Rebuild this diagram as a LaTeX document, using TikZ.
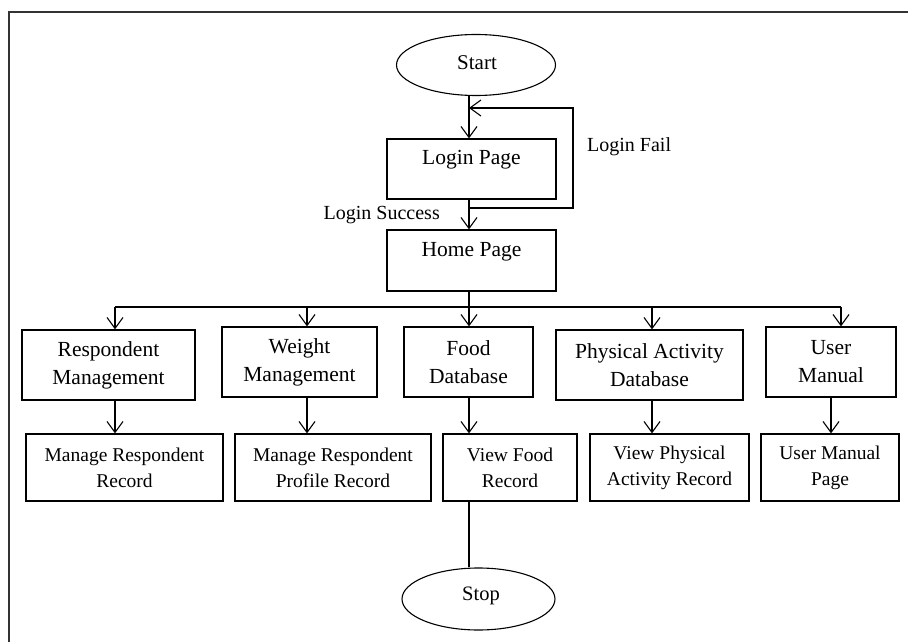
\documentclass[tikz,border=0pt]{standalone}
\usepackage{fontspec}
\setmainfont{Liberation Serif}
\usetikzlibrary{shapes.geometric,arrows.meta}

\tikzset{
  conn/.style={line width=1.1pt, draw=black},
  flow/.style={conn, -{Straight Barb[length=11pt,width=16pt,line width=1.1pt]}},
  box/.style={draw=black, line width=1.2pt, rectangle, inner sep=0pt, align=center,
              font=\fontsize{21.5}{28}\selectfont},
  subbox/.style={draw=black, line width=1.2pt, rectangle, inner sep=0pt, align=center,
              font=\fontsize{19.5}{26}\selectfont},
  term/.style={draw=black, line width=1.1pt, ellipse, inner sep=0pt},
  lbl/.style={inner sep=0pt, font=\fontsize{20}{24}\selectfont},
  frame/.style={line width=1.6pt, draw=black!80}
}

\begin{document}
\begin{tikzpicture}[x=1pt, y=-1pt]
\useasboundingbox (0,0) rectangle (908,642);

% outer border
\draw[frame] (9,680) |- (940,12);

% terminals
\node[term, minimum width=159pt, minimum height=61pt] (start) at (476,65) {};
\node[lbl, font=\fontsize{21}{24}\selectfont] (starttxt) at (477,63) {Start};
\node[term, minimum width=153pt, minimum height=62pt] (stop) at (478.5,599) {};
\node[lbl, font=\fontsize{20.5}{24}\selectfont] (stoptxt) at (481,596) {Stop};

% login and home pages (caption sits in the upper part of the box)
\node[box, minimum width=169pt, minimum height=60pt] (login) at (471.5,169) {};
\node[lbl, font=\fontsize{21.5}{24}\selectfont] (logintxt) at (471.5,160) {Login Page};
\node[box, minimum width=169pt, minimum height=61pt] (home) at (471.5,260.5) {};
\node[lbl, font=\fontsize{21.5}{24}\selectfont] (hometxt) at (471.5,252) {Home Page};

% module boxes
\node[box, minimum width=173pt, minimum height=70pt] (rm) at (108.5,365) {Respondent\\Management};
\node[box, minimum width=155pt, minimum height=70pt] (wm) at (299.5,362) {Weight\\Management};
\node[box, minimum width=129pt, minimum height=70pt] (fd) at (468.5,362) {Food\\Database};
\node[box, minimum width=187pt, minimum height=70pt] (pa) at (649.5,365) {Physical Activity\\Database};
\node[box, minimum width=130pt, minimum height=70pt] (um) at (831,362) {User\\Manual};

% page boxes
\node[subbox, minimum width=197pt, minimum height=67pt] (mrr) at (124.5,467.5) {Manage Respondent\\Record};
\node[subbox, minimum width=196pt, minimum height=67pt] (mrp) at (333,467.5) {Manage Respondent\\Profile Record};
\node[subbox, minimum width=134pt, minimum height=67pt] (vfr) at (510,467.5) {View Food\\Record};
\node[subbox, minimum width=159pt, minimum height=67pt] (vpa) at (669.5,467.5) {View Physical\\Activity Record};
\node[subbox, minimum width=138pt, minimum height=67pt] (ump) at (830,467.5) {User Manual\\Page};

% guide coordinates
\coordinate (spine) at (469,0);
\coordinate (loopin) at (469,108);
\coordinate (loopout) at (469,208);
\coordinate (loopR) at (573,0);
\coordinate (bus) at (0,307);
\coordinate (xa) at (115,0);
\coordinate (xb) at (307,0);
\coordinate (xd) at (652,0);
\coordinate (xe) at (841,0);
\coordinate (xf) at (831,0);

% start -> login
\draw[flow] (start.south -| spine) -- (login.north -| spine);
% login success
\draw[flow] (login.south -| spine) -- (home.north -| spine);
\node[lbl, anchor=east] (succ) at (440,215) {Login Success};
% login fail loop
\draw[flow] (loopout) -| (loopR |- loopin) -- (loopin);
\node[lbl, anchor=west] (fail) at (587,147) {Login Fail};

% home -> modules
\draw[conn] (home.south -| spine) -- (bus -| spine);
\draw[conn] (bus -| xa) -- (bus -| xe);
\draw[flow] (bus -| xa) -- (rm.north -| xa);
\draw[flow] (bus -| xb) -- (wm.north -| xb);
\draw[flow] (bus -| spine) -- (fd.north -| spine);
\draw[flow] (bus -| xd) -- (pa.north -| xd);
\draw[flow] (bus -| xe) -- (um.north -| xe);

% modules -> pages
\draw[flow] (rm.south -| xa) -- (mrr.north -| xa);
\draw[flow] (wm.south -| xb) -- (mrp.north -| xb);
\draw[flow] (fd.south -| spine) -- (vfr.north -| spine);
\draw[flow] (pa.south -| xd) -- (vpa.north -| xd);
\draw[flow] (um.south -| xf) -- (ump.north -| xf);

% food record -> stop
\draw[conn] (vfr.south -| spine) -- (stop.north -| spine);
\end{tikzpicture}
\end{document}
